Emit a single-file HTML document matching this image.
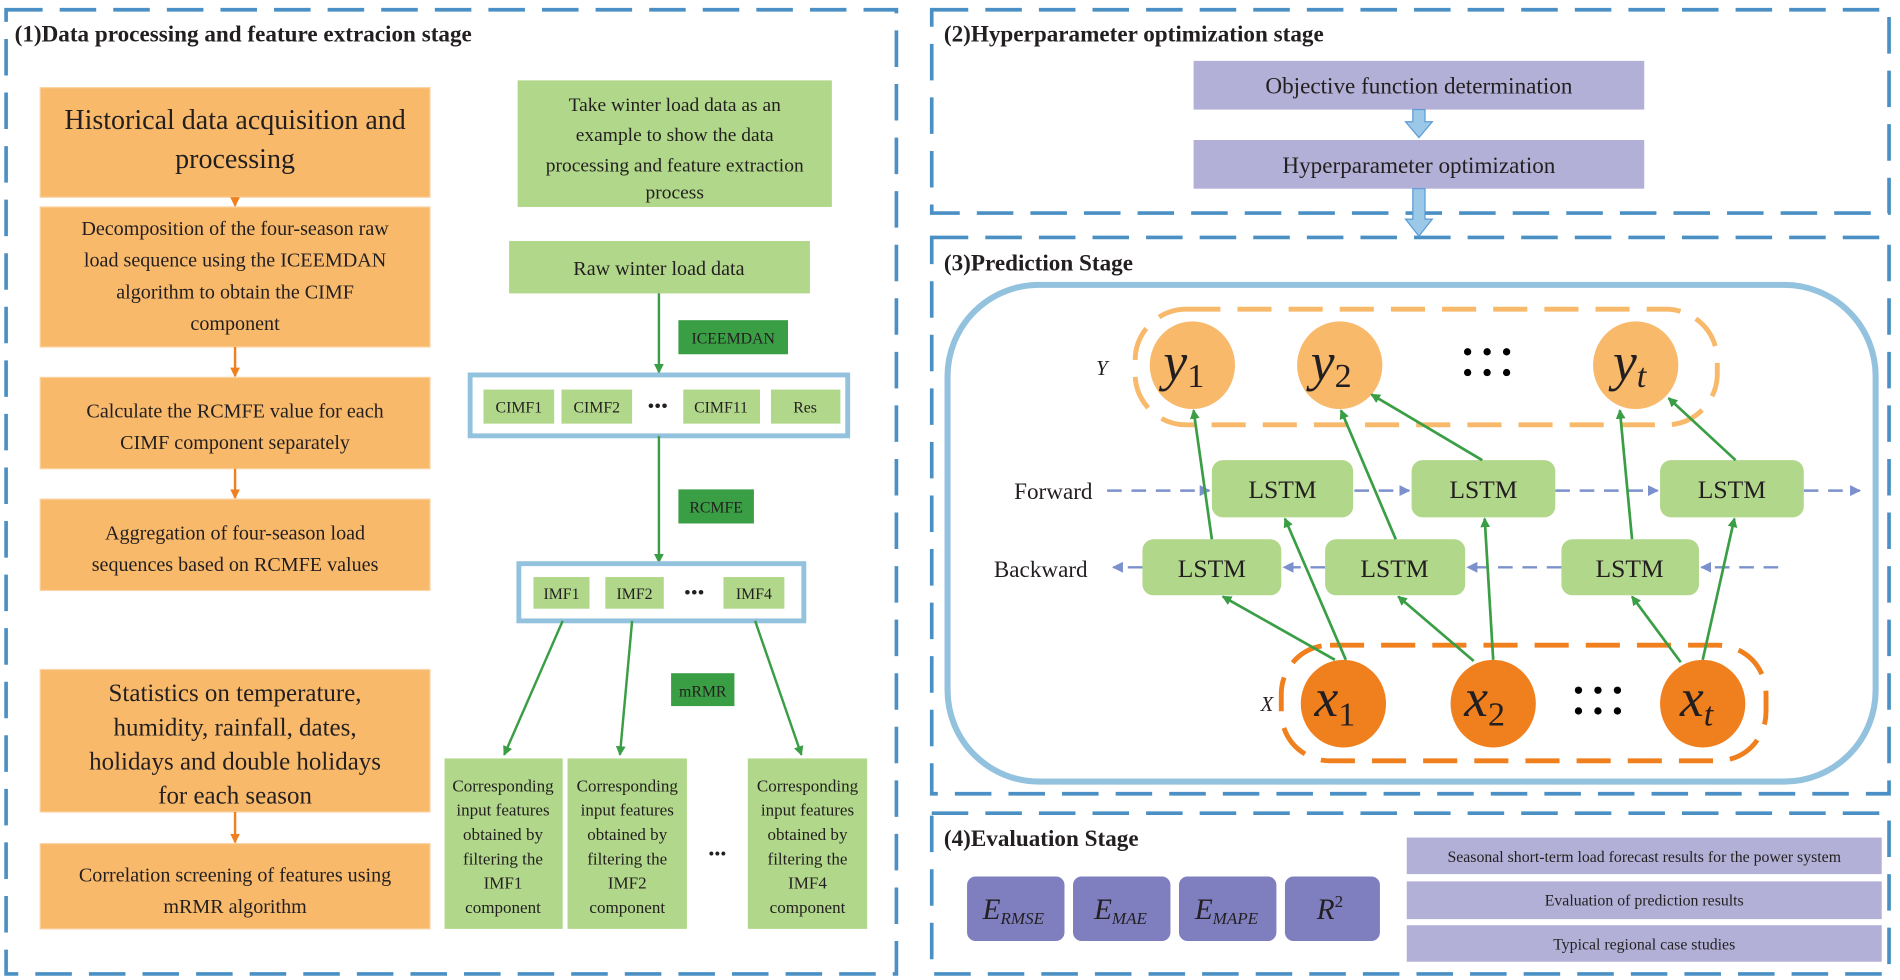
<!DOCTYPE html>
<html><head><meta charset="utf-8"><style>
html,body{margin:0;padding:0;background:#fff;}
svg{display:block;}
text{font-family:"Liberation Serif",serif;fill:#231f20;}
.t{font-weight:bold;font-size:19px;}
</style></head><body>
<svg width="1900" height="980" viewBox="0 0 1560 805" preserveAspectRatio="none" xmlns="http://www.w3.org/2000/svg">
<defs>
<marker id="ag" markerWidth="8" markerHeight="8" refX="7" refY="4" orient="auto" markerUnits="userSpaceOnUse" viewBox="0 0 8 8"><path d="M0,0 L8,4 L0,8 z" fill="#3a9e45"/></marker>
<marker id="ao" markerWidth="8" markerHeight="8" refX="7" refY="4" orient="auto" markerUnits="userSpaceOnUse" viewBox="0 0 8 8"><path d="M0,0 L8,4 L0,8 z" fill="#f07f1e"/></marker>
<marker id="ab" markerWidth="9" markerHeight="9" refX="8" refY="4.5" orient="auto" markerUnits="userSpaceOnUse" viewBox="0 0 9 9"><path d="M0,0 L9,4.5 L0,9 z" fill="#7b90cc"/></marker>
</defs>
<g fill="none" stroke="#4a90c4" stroke-width="3" stroke-dasharray="30,14">
<rect x="5" y="8" width="731" height="792"/>
<rect x="765" y="8" width="786" height="167"/>
<rect x="765" y="195" width="786" height="457"/>
<rect x="765" y="668" width="786" height="132"/>
</g>
<text x="12" y="34" class="t">(1)Data processing and feature extracion stage</text>
<text x="775" y="34" class="t">(2)Hyperparameter optimization stage</text>
<text x="775" y="222" class="t">(3)Prediction Stage</text>
<text x="775" y="695" class="t">(4)Evaluation Stage</text>

<g fill="#f8b96b" stroke="#fbd2a0" stroke-width="1">
<rect x="33" y="72" width="320" height="90"/>
<rect x="33" y="170" width="320" height="115"/>
<rect x="33" y="310" width="320" height="75"/>
<rect x="33" y="410" width="320" height="75"/>
<rect x="33" y="550" width="320" height="117"/>
<rect x="33" y="693" width="320" height="70"/>
</g>
<g stroke="#f07f1e" stroke-width="2" marker-end="url(#ao)">
<line x1="193" y1="162" x2="193" y2="169"/>
<line x1="193" y1="285" x2="193" y2="309"/>
<line x1="193" y1="385" x2="193" y2="409"/>
<line x1="193" y1="667" x2="193" y2="692"/>
</g>
<g text-anchor="middle">
<text x="193" y="106" font-size="23">Historical data acquisition and</text>
<text x="193" y="138" font-size="23">processing</text>
<text x="193" y="193" font-size="16.5">Decomposition of the four-season raw</text>
<text x="193" y="219" font-size="16.5">load sequence using the ICEEMDAN</text>
<text x="193" y="245" font-size="16.5">algorithm to obtain the CIMF</text>
<text x="193" y="271" font-size="16.5">component</text>
<text x="193" y="343" font-size="16.5">Calculate the RCMFE value for each</text>
<text x="193" y="369" font-size="16.5">CIMF component separately</text>
<text x="193" y="443" font-size="16.5">Aggregation of four-season load</text>
<text x="193" y="469" font-size="16.5">sequences based on RCMFE values</text>
<text x="193" y="576" font-size="20.5">Statistics on temperature,</text>
<text x="193" y="604" font-size="20.5">humidity, rainfall, dates,</text>
<text x="193" y="632" font-size="20.5">holidays and double holidays</text>
<text x="193" y="660" font-size="20.5">for each season</text>
<text x="193" y="724" font-size="16.5">Correlation screening of features using</text>
<text x="193" y="750" font-size="16.5">mRMR algorithm</text>
</g>

<rect x="425" y="66" width="258" height="104" fill="#b1d78a"/>
<g text-anchor="middle" font-size="16">
<text x="554" y="91">Take winter load data as an</text>
<text x="554" y="116">example to show the data</text>
<text x="554" y="141">processing and feature extraction</text>
<text x="554" y="163">process</text>
</g>
<rect x="418" y="198" width="247" height="43" fill="#b1d78a"/>
<text x="541" y="226" font-size="16.5" text-anchor="middle">Raw winter load data</text>
<rect x="557" y="263" width="90" height="28" fill="#3a9e45"/>
<text x="602" y="282" font-size="13" text-anchor="middle">ICEEMDAN</text>
<line x1="541" y1="241" x2="541" y2="306" stroke="#3a9e45" stroke-width="2" marker-end="url(#ag)"/>
<rect x="386" y="308" width="310" height="50" fill="#fff" stroke="#93c2de" stroke-width="4"/>
<g fill="#b1d78a">
<rect x="397" y="320" width="58" height="28"/>
<rect x="461" y="320" width="58" height="28"/>
<rect x="561" y="320" width="63" height="28"/>
<rect x="633" y="320" width="57" height="28"/>
</g>
<g font-size="13" text-anchor="middle">
<text x="426" y="339">CIMF1</text><text x="490" y="339">CIMF2</text>
<text x="540" y="339" font-size="16">•••</text>
<text x="592" y="339">CIMF11</text><text x="661" y="339">Res</text>
</g>
<line x1="541" y1="358" x2="541" y2="462" stroke="#3a9e45" stroke-width="2" marker-end="url(#ag)"/>
<rect x="557" y="402" width="62" height="28" fill="#3a9e45"/>
<text x="588" y="421" font-size="13" text-anchor="middle">RCMFE</text>
<rect x="426" y="463" width="234" height="47" fill="#fff" stroke="#93c2de" stroke-width="4"/>
<g fill="#b1d78a">
<rect x="438" y="474" width="46" height="26"/>
<rect x="497" y="474" width="48" height="26"/>
<rect x="594" y="474" width="50" height="26"/>
</g>
<g font-size="13" text-anchor="middle">
<text x="461" y="492">IMF1</text><text x="521" y="492">IMF2</text>
<text x="570" y="492" font-size="16">•••</text><text x="619" y="492">IMF4</text>
</g>
<rect x="551" y="553" width="52" height="27" fill="#3a9e45"/>
<text x="577" y="572" font-size="13" text-anchor="middle">mRMR</text>
<g stroke="#3a9e45" stroke-width="2" marker-end="url(#ag)">
<line x1="462" y1="510" x2="414" y2="620"/>
<line x1="519" y1="510" x2="509" y2="620"/>
<line x1="620" y1="510" x2="658" y2="620"/>
</g>
<g fill="#b1d78a">
<rect x="365" y="623" width="97" height="140"/>
<rect x="466" y="623" width="98" height="140"/>
<rect x="614" y="623" width="98" height="140"/>
</g>
<g font-size="14" text-anchor="middle">
<text x="413" y="650">Corresponding</text><text x="413" y="670">input features</text><text x="413" y="690">obtained by</text><text x="413" y="710">filtering the</text><text x="413" y="730">IMF1</text><text x="413" y="750">component</text>
<text x="515" y="650">Corresponding</text><text x="515" y="670">input features</text><text x="515" y="690">obtained by</text><text x="515" y="710">filtering the</text><text x="515" y="730">IMF2</text><text x="515" y="750">component</text>
<text x="663" y="650">Corresponding</text><text x="663" y="670">input features</text><text x="663" y="690">obtained by</text><text x="663" y="710">filtering the</text><text x="663" y="730">IMF4</text><text x="663" y="750">component</text>
<text x="589" y="706" font-size="14">•••</text>
</g>

<rect x="980" y="50" width="370" height="40" fill="#b2b0d6"/>
<rect x="980" y="115" width="370" height="40" fill="#b2b0d6"/>
<text x="1165" y="77" font-size="19" text-anchor="middle">Objective function determination</text>
<text x="1165" y="142" font-size="19" text-anchor="middle">Hyperparameter optimization</text>
<g fill="#9cc8e8" stroke="#5b9bd5" stroke-width="1">
<path d="M1160,90 h10 v10 h6 l-11,13 l-11,-13 h6 z"/>
<path d="M1160,155 h10 v25 h6 l-11,14 l-11,-14 h6 z"/>
</g>

<rect x="778" y="234" width="762" height="408" rx="75" fill="none" stroke="#93c2de" stroke-width="5"/>
<text x="900" y="308" font-size="17" font-style="italic">Y</text>
<rect x="932" y="254" width="478" height="95" rx="42" fill="none" stroke="#f8b96b" stroke-width="4" stroke-dasharray="28,14"/>
<g fill="#f8b96b">
<ellipse cx="979" cy="300" rx="35" ry="36"/>
<ellipse cx="1100" cy="300" rx="35" ry="36"/>
<ellipse cx="1343" cy="300" rx="35" ry="36"/>
</g>
<g font-size="44" font-style="italic" text-anchor="middle">
<text x="972" y="312">y<tspan font-size="28" font-style="normal" dy="6">1</tspan></text>
<text x="1093" y="312">y<tspan font-size="28" font-style="normal" dy="6">2</tspan></text>
<text x="1338" y="312">y<tspan font-size="28" font-style="italic" dy="6">t</tspan></text>
</g>
<g fill="#000">
<circle cx="1205" cy="289" r="3"/><circle cx="1221" cy="289" r="3"/><circle cx="1237" cy="289" r="3"/>
<circle cx="1205" cy="306" r="3"/><circle cx="1221" cy="306" r="3"/><circle cx="1237" cy="306" r="3"/>
</g>
<text x="897" y="410" font-size="19" text-anchor="end">Forward</text>
<text x="893" y="474" font-size="19" text-anchor="end">Backward</text>
<g stroke="#7b90cc" stroke-width="2" stroke-dasharray="12,8" fill="none">
<line x1="909" y1="403" x2="993" y2="403" marker-end="url(#ab)"/>
<line x1="1112" y1="403" x2="1157" y2="403" marker-end="url(#ab)"/>
<line x1="1277" y1="403" x2="1361" y2="403" marker-end="url(#ab)"/>
<line x1="1481" y1="403" x2="1527" y2="403" marker-end="url(#ab)"/>
<line x1="1460" y1="466" x2="1397" y2="466" marker-end="url(#ab)"/>
<line x1="1282" y1="466" x2="1205" y2="466" marker-end="url(#ab)"/>
<line x1="1088" y1="466" x2="1054" y2="466" marker-end="url(#ab)"/>
<line x1="938" y1="466" x2="914" y2="466" marker-end="url(#ab)"/>
</g>
<g fill="#b1d78a">
<rect x="995" y="378" width="116" height="47" rx="9"/>
<rect x="1159" y="378" width="118" height="47" rx="9"/>
<rect x="1363" y="378" width="118" height="47" rx="9"/>
<rect x="938" y="443" width="114" height="46" rx="9"/>
<rect x="1088" y="443" width="115" height="46" rx="9"/>
<rect x="1282" y="443" width="113" height="46" rx="9"/>
</g>
<g font-size="21" text-anchor="middle">
<text x="1053" y="409">LSTM</text><text x="1218" y="409">LSTM</text><text x="1422" y="409">LSTM</text>
<text x="995" y="474">LSTM</text><text x="1145" y="474">LSTM</text><text x="1338" y="474">LSTM</text>
</g>
<text x="1035" y="584" font-size="17" font-style="italic">X</text>
<rect x="1052" y="530" width="398" height="95" rx="40" fill="none" stroke="#f07f1e" stroke-width="4" stroke-dasharray="28,14"/>
<g fill="#f07f1e">
<ellipse cx="1103" cy="578" rx="35" ry="36"/>
<ellipse cx="1226" cy="578" rx="35" ry="36"/>
<ellipse cx="1398" cy="578" rx="35" ry="36"/>
</g>
<g font-size="44" font-style="italic" text-anchor="middle">
<text x="1096" y="588">x<tspan font-size="28" font-style="normal" dy="8">1</tspan></text>
<text x="1219" y="588">x<tspan font-size="28" font-style="normal" dy="8">2</tspan></text>
<text x="1393" y="588">x<tspan font-size="28" font-style="italic" dy="8">t</tspan></text>
</g>
<g fill="#000">
<circle cx="1296" cy="567" r="3"/><circle cx="1312" cy="567" r="3"/><circle cx="1328" cy="567" r="3"/>
<circle cx="1296" cy="584" r="3"/><circle cx="1312" cy="584" r="3"/><circle cx="1328" cy="584" r="3"/>
</g>
<g stroke="#3a9e45" stroke-width="2.2" marker-end="url(#ag)">
<line x1="995" y1="443" x2="980" y2="337"/>
<line x1="1146" y1="443" x2="1101" y2="337"/>
<line x1="1217" y1="378" x2="1126" y2="324"/>
<line x1="1340" y1="443" x2="1330" y2="337"/>
<line x1="1425" y1="378" x2="1370" y2="327"/>
<line x1="1096" y1="542" x2="1004" y2="490"/>
<line x1="1105" y1="542" x2="1055" y2="426"/>
<line x1="1210" y1="543" x2="1148" y2="490"/>
<line x1="1226" y1="542" x2="1219" y2="426"/>
<line x1="1380" y1="544" x2="1340" y2="490"/>
<line x1="1398" y1="542" x2="1424" y2="426"/>
</g>

<g fill="#7f7fbf">
<rect x="794" y="720" width="80" height="53" rx="7"/>
<rect x="881" y="720" width="80" height="53" rx="7"/>
<rect x="968" y="720" width="80" height="53" rx="7"/>
<rect x="1055" y="720" width="78" height="53" rx="7"/>
</g>
<g font-size="24" font-style="italic" text-anchor="middle">
<text x="832" y="755">E<tspan font-size="14" dy="4">RMSE</tspan></text>
<text x="920" y="755">E<tspan font-size="14" dy="4">MAE</tspan></text>
<text x="1007" y="755">E<tspan font-size="14" dy="4">MAPE</tspan></text>
<text x="1092" y="755">R<tspan font-size="14" font-style="normal" dy="-10">2</tspan></text>
</g>
<g fill="#b2b0d6">
<rect x="1155" y="688" width="390" height="30"/>
<rect x="1155" y="724" width="390" height="31"/>
<rect x="1155" y="760" width="390" height="30"/>
</g>
<g font-size="13" text-anchor="middle">
<text x="1350" y="708">Seasonal short-term load forecast results for the power system</text>
<text x="1350" y="744">Evaluation of prediction results</text>
<text x="1350" y="780">Typical regional case studies</text>
</g>
</svg>
</body></html>
